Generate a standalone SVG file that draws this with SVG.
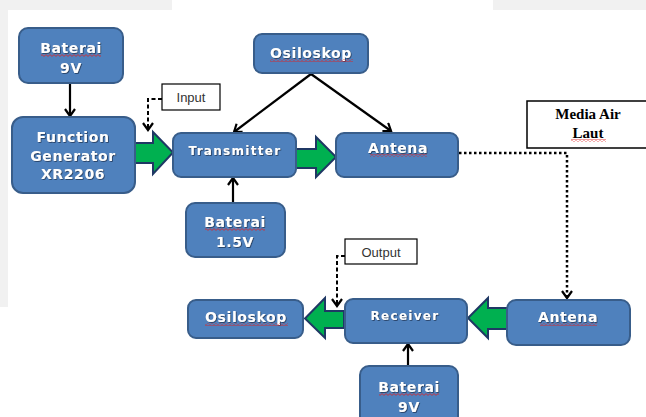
<svg xmlns="http://www.w3.org/2000/svg" width="646" height="417" viewBox="0 0 646 417">
<style>
.box{fill:#4f81bd;stroke:#385d8a;stroke-width:2}
.t{font-family:"DejaVu Sans",Verdana,sans-serif;font-weight:bold;font-size:14px;fill:#fff;text-anchor:middle;letter-spacing:0.6px;filter:url(#sh)}
.ts{font-size:12px;letter-spacing:1.3px}
.lbl{font-family:"Liberation Sans",Arial,sans-serif;font-size:13px;fill:#333;text-anchor:middle}
.ln{fill:none;stroke:#000;stroke-width:2.2}
.dash{fill:none;stroke:#000;stroke-width:2;stroke-dasharray:4 2.5}
.dot{fill:none;stroke:#000;stroke-width:2.5;stroke-dasharray:2.5 2.5}
.g{fill:#00b050;stroke:#1f3864;stroke-width:2;stroke-linejoin:miter}
.wavy{fill:url(#wv)}
</style>
<defs>
<filter id="sh" x="-10%" y="-20%" width="120%" height="150%">
<feDropShadow dx="0.8" dy="0.8" stdDeviation="0.5" flood-color="#1a3050" flood-opacity="0.9"/>
</filter>
<pattern id="wv" width="4" height="3" patternUnits="userSpaceOnUse">
<path d="M0,2.4 L2,0.6 L4,2.4" fill="none" stroke="#e02020" stroke-width="0.8"/>
</pattern>
<marker id="ah" markerWidth="12" markerHeight="12" refX="8" refY="6" orient="auto" markerUnits="userSpaceOnUse">
<path d="M1,1 L8,6 L1,11" fill="none" stroke="#000" stroke-width="2.2"/>
</marker>
</defs>
<rect width="646" height="417" fill="#fff"/>
<rect x="0" y="0" width="172" height="10" fill="#f1f1f1"/>
<rect x="0" y="0" width="8" height="307" fill="#f1f1f1"/>
<rect x="493" y="0" width="153" height="10" fill="#f1f1f1"/>

<g id="connectors">
<line class="ln" x1="70" y1="83" x2="70" y2="116" marker-end="url(#ah)"/>
<line class="ln" x1="311" y1="74" x2="234" y2="132" marker-end="url(#ah)"/>
<line class="ln" x1="311" y1="74" x2="391" y2="131" marker-end="url(#ah)"/>
<line class="ln" x1="233" y1="203" x2="233" y2="178" marker-end="url(#ah)"/>
<line class="ln" x1="408" y1="366" x2="408" y2="344" marker-end="url(#ah)"/>
<polyline class="dash" points="162,99 148,99 148,130" marker-end="url(#ah)"/>
<polyline class="dash" points="345,256 337,256 337,306" marker-end="url(#ah)"/>
<polyline class="dot" points="459,153 567,153 567,298" marker-end="url(#ah)"/>
<polygon class="g" points="134,143 153,143 153,132 173,152.5 153,174 153,163 134,163"/>
<polygon class="g" points="296,149 316,149 316,137 336,157 316,177 316,168 296,168"/>
<polygon class="g" points="344,311 325,311 325,298 305,318.5 325,338 325,328 344,328"/>
<polygon class="g" points="507,308 488,308 488,298 468,318 488,338 488,329 507,329"/>
</g>

<g id="baterai9v-top">
<rect class="box" x="19" y="28" width="104" height="55" rx="9"/>
<text class="t" x="71" y="53">Baterai</text>
<text class="t" x="71" y="73">9V</text>
<rect class="wavy" x="41" y="54" width="60" height="3"/>
</g>
<g id="function-generator">
<rect class="box" x="12" y="117" width="123" height="76" rx="11"/>
<text class="t" x="73" y="142">Function</text>
<text class="t" x="73" y="161">Generator</text>
<text class="t" x="73" y="179">XR2206</text>
</g>
<g id="input-label">
<rect x="162" y="84" width="58" height="26" fill="#fff" stroke="#000" stroke-width="1.2"/>
<text class="lbl" x="191" y="102">Input</text>
</g>
<g id="transmitter">
<rect class="box" x="173" y="133" width="123" height="44" rx="8"/>
<text class="t ts" x="235" y="155">Transmitter</text>
</g>
<g id="osiloskop-top">
<rect class="box" x="254" y="34" width="114" height="39" rx="8"/>
<text class="t" x="311" y="58">Osiloskop</text>
<rect class="wavy" x="270" y="59" width="83" height="3"/>
</g>
<g id="antena-top">
<rect class="box" x="336" y="133" width="122" height="44" rx="8"/>
<text class="t" x="398" y="153">Antena</text>
<rect class="wavy" x="370" y="154" width="57" height="3"/>
</g>
<g id="media-air-laut">
<rect x="527" y="101" width="122" height="47" fill="#fff" stroke="#000" stroke-width="1.5"/>
<text x="588" y="119" font-family="'Liberation Serif','Times New Roman',serif" font-weight="bold" font-size="15" text-anchor="middle" fill="#000">Media Air</text>
<text x="588" y="138" font-family="'Liberation Serif','Times New Roman',serif" font-weight="bold" font-size="15" text-anchor="middle" fill="#000">Laut</text>
<rect class="wavy" x="571" y="139" width="35" height="3"/>
</g>
<g id="baterai15v">
<rect class="box" x="186" y="203" width="99" height="54" rx="9"/>
<text class="t" x="235" y="227">Baterai</text>
<text class="t" x="235" y="247">1.5V</text>
<rect class="wavy" x="205" y="228" width="60" height="3"/>
</g>
<g id="output-label">
<rect x="345" y="239" width="72" height="25" fill="#fff" stroke="#000" stroke-width="1.2"/>
<text class="lbl" x="381" y="257">Output</text>
</g>
<g id="osiloskop-bottom">
<rect class="box" x="188" y="300" width="115" height="38" rx="8"/>
<text class="t" x="246" y="322">Osiloskop</text>
<rect class="wavy" x="205" y="323" width="83" height="3"/>
</g>
<g id="receiver">
<rect class="box" x="345" y="299" width="122" height="44" rx="8"/>
<text class="t ts" x="405" y="320">Receiver</text>
</g>
<g id="antena-bottom">
<rect class="box" x="507" y="300" width="123" height="45" rx="9"/>
<text class="t" x="568" y="322">Antena</text>
<rect class="wavy" x="540" y="323" width="57" height="3"/>
</g>
<g id="baterai9v-bottom">
<rect class="box" x="360" y="366" width="98" height="60" rx="9"/>
<text class="t" x="409" y="392">Baterai</text>
<text class="t" x="409" y="412">9V</text>
<rect class="wavy" x="379" y="393" width="60" height="3"/>
</g>
</svg>
